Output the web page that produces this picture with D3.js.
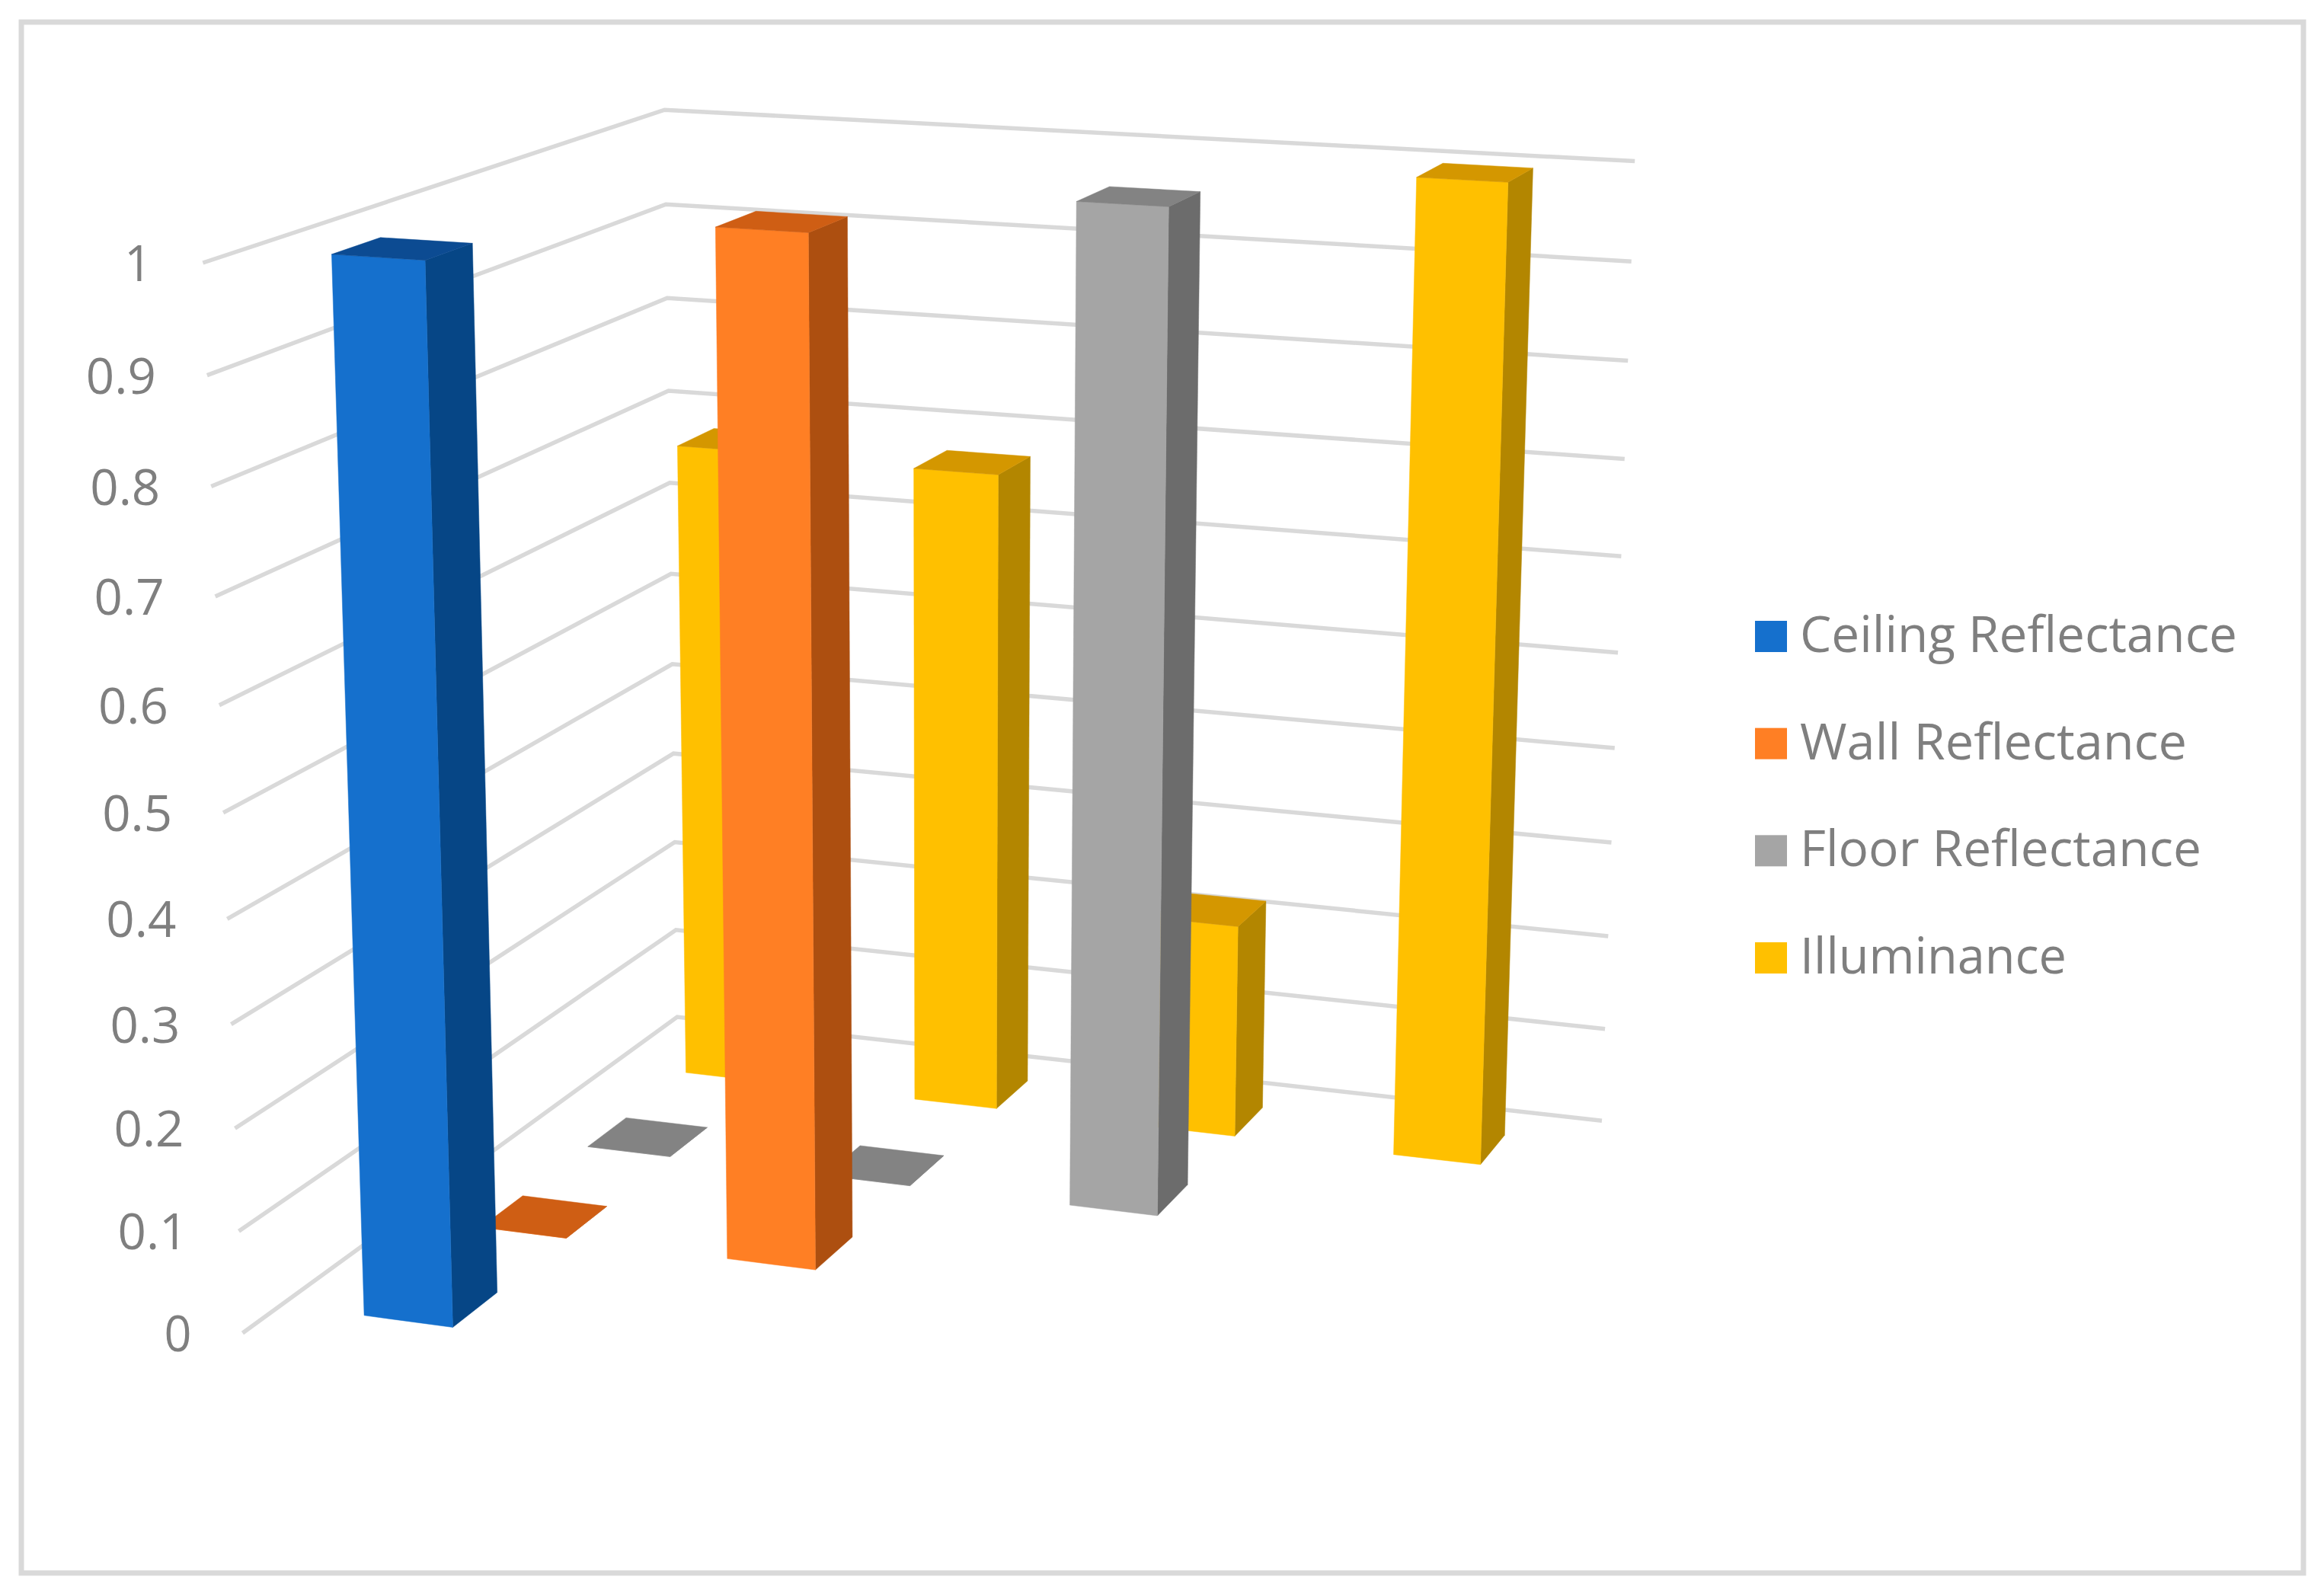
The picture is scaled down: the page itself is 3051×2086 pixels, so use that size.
<!DOCTYPE html>
<html>
<head>
<meta charset="utf-8">
<script src="https://d3js.org/d3.v7.min.js"></script>
<style>
  html, body { margin: 0; padding: 0; background: #ffffff; }
  text { font-family: "Open Sans", "Noto Sans", sans-serif; fill: #7f7f7f; }
</style>
</head>
<body>
<div id="stage"></div>
<script>
// chart values (null = empty cell, no column at all)
var categories = ["Case 1", "Case 2", "Case 3", "Case 4"];
var series_names = ["Ceiling Reflectance", "Wall Reflectance", "Floor Reflectance", "Illuminance"];
var ceiling_values = [1, null, null, null];
var wall_values = [0, 1, null, null];
var floor_values = [0, 0, 1, null];
var illuminance_values = [0.68, 0.675, 0.225, 1];
var tick_values = [0, 0.1, 0.2, 0.3, 0.4, 0.5, 0.6, 0.7, 0.8, 0.9, 1];
var tick_labels = ["0", "0.1", "0.2", "0.3", "0.4", "0.5", "0.6", "0.7", "0.8", "0.9", "1"];

// front, side and top shades per series
var front_colors = ["#1570cd", "#ff7f24", "#a5a5a5", "#ffc000"];
var side_colors = ["#064686", "#ad4f10", "#6c6c6c", "#b38600"];
var top_colors = ["#0c4b92", "#cf5e14", "#838383", "#d49700"];
// legend text widths in the reference, the installed fonts run wider than it
var legend_widths = [574, 508, 527, 350];

var stage_width = 3051;
var stage_height = 2086;

var all_values = [ceiling_values, wall_values, floor_values, illuminance_values];

// scales work in box units, then project() takes them to the screen
var x = d3.scaleBand().domain(categories).range([0.002, 1]).paddingInner(0.65).paddingOuter(0.32);
var z = d3.scaleBand().domain(series_names).range([1, 0]).paddingInner(0.62).paddingOuter(0.31);
var y = d3.scaleLinear().domain([0, 1]).range([0, 1]);

// perspective camera: origin is the back left floor corner, plus one vanishing point per axis
var origin = [889, 1335];
var vanish_x = [-19195, -918];
var vanish_z = [3909, -862];
var vanish_y = [1240, 26607];
var k_x = -0.057;
var k_z = -0.1589;
var k_y = -0.045;

function project(px, py, pz) {
  var w = 1 + k_x * px + k_z * pz + k_y * py;
  return [
    (origin[0] + k_x * vanish_x[0] * px + k_z * vanish_z[0] * pz + k_y * vanish_y[0] * py) / w,
    (origin[1] + k_x * vanish_x[1] * px + k_z * vanish_z[1] * pz + k_y * vanish_y[1] * py) / w
  ];
}

var line = d3.line();

var svg = d3
  .select("#stage")
  .append("svg")
  .attr("width", stage_width)
  .attr("height", stage_height);

// outer frame
svg
  .append("rect")
  .attr("x", 28)
  .attr("y", 29)
  .attr("width", 2996)
  .attr("height", 2036)
  .attr("fill", "#ffffff")
  .attr("stroke", "#d9d9d9")
  .attr("stroke-width", 7);

// gridlines run along the left wall and then the back wall
svg
  .append("g")
  .selectAll("path")
  .data(tick_values)
  .enter()
  .append("path")
  .attr("d", function(d) {
    return line([project(0, y(d), 1), project(0, y(d), 0), project(1, y(d), 0)]);
  })
  .attr("fill", "none")
  .attr("stroke", "#d9d9d9")
  .attr("stroke-width", 5.5);

// value labels sit at the front end of each gridline
svg
  .append("g")
  .selectAll("text")
  .data(tick_values)
  .enter()
  .append("text")
  .attr("x", function(d) {
    return project(0, y(d), 1)[0] - 67;
  })
  .attr("y", function(d) {
    return project(0, y(d), 1)[1] + 24;
  })
  .attr("text-anchor", "end")
  .attr("font-size", 66)
  .attr("textLength", function(d, i) {
    return tick_labels[i].length == 1 ? 36 : 92;
  })
  .attr("lengthAdjust", "spacingAndGlyphs")
  .text(function(d, i) {
    return tick_labels[i];
  });

// one record per column, back row first so the front rows paint over it
var bars = [];
d3.range(series_names.length - 1, -1, -1).forEach(function(s) {
  categories.forEach(function(c, i) {
    if (all_values[s][i] !== null) {
      bars.push({ series: s, category: c, value: all_values[s][i] });
    }
  });
});

function bar_faces(d) {
  var x0 = x(d.category);
  var x1 = x0 + x.bandwidth();
  var z1 = z(series_names[d.series]);
  var z0 = z1 + z.bandwidth();
  var h = y(d.value);
  return {
    side: [project(x1, 0, z0), project(x1, 0, z1), project(x1, h, z1), project(x1, h, z0)],
    front: [project(x0, 0, z0), project(x1, 0, z0), project(x1, h, z0), project(x0, h, z0)],
    top: [project(x0, h, z0), project(x1, h, z0), project(x1, h, z1), project(x0, h, z1)]
  };
}

var bar_groups = svg
  .append("g")
  .selectAll("g")
  .data(bars)
  .enter()
  .append("g");

[
  { face: "side", colors: side_colors },
  { face: "front", colors: front_colors },
  { face: "top", colors: top_colors }
].forEach(function(f) {
  bar_groups
    .append("path")
    .attr("d", function(d) {
      return line(bar_faces(d)[f.face]) + "Z";
    })
    .attr("fill", function(d) {
      return f.colors[d.series];
    })
    .attr("stroke", function(d) {
      return f.colors[d.series];
    })
    .attr("stroke-width", 0.5);
});

// legend
var legend_y = d3.scalePoint().domain(series_names).range([856, 1278]);

var legend = svg
  .append("g")
  .selectAll("g")
  .data(series_names)
  .enter()
  .append("g");

legend
  .append("rect")
  .attr("x", 2304)
  .attr("y", function(d) {
    return legend_y(d) - 41;
  })
  .attr("width", 42)
  .attr("height", 41)
  .attr("fill", function(d, i) {
    return front_colors[i];
  });

legend
  .append("text")
  .attr("x", 2363)
  .attr("y", function(d) {
    return legend_y(d);
  })
  .attr("font-size", 66)
  .attr("textLength", function(d, i) {
    return legend_widths[i];
  })
  .attr("lengthAdjust", "spacingAndGlyphs")
  .text(function(d) {
    return d;
  });
</script>
</body>
</html>
